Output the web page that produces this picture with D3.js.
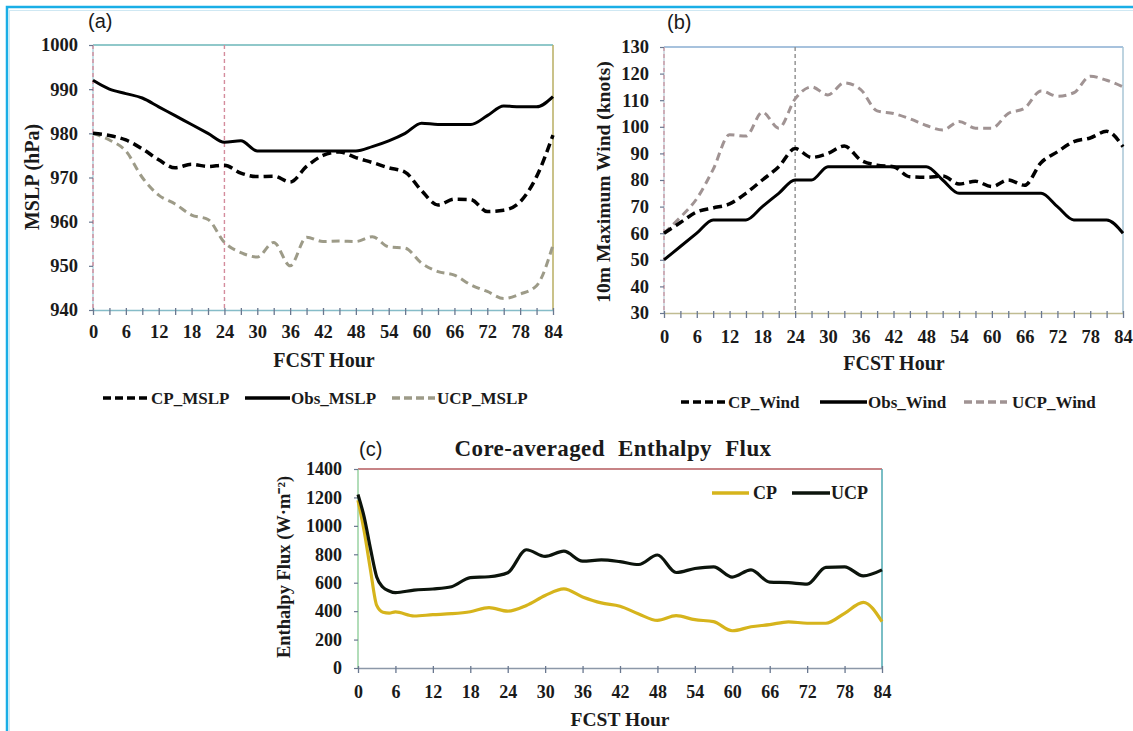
<!DOCTYPE html>
<html>
<head>
<meta charset="utf-8">
<script src="https://cdn.jsdelivr.net/npm/d3@7"></script>
<style>
  html, body { margin: 0; padding: 0; background: #fff; }
  svg { display: block; }
  text { font-family: "Liberation Serif", "Times New Roman", serif; fill: #1a1a1a; }
  .bold { font-weight: bold; }
  .panel-tag { font-family: "Liberation Sans", Arial, sans-serif; font-weight: normal; }
</style>
</head>
<body>
<svg id="fig" width="1133" height="731"></svg>
<script>
// Forecast hours (3-hourly) shared by the MSLP and wind panels
const hours = [0,3,6,9,12,15,18,21,24,27,30,33,36,39,42,45,48,51,54,57,60,63,66,69,72,75,78,81,84];

// (a) Minimum sea-level pressure, hPa
const cpMslp  = [980,979.5,978.5,976.5,974,972.2,973,972.5,972.8,971,970.2,970.3,969,972.5,975,975.8,974.5,973.4,972.2,971.2,967,963.8,965.1,965,962.3,962.6,964.5,970.2,979.6];
const obsMslp = [992,990,989,988,986,984,982,980,978,978.3,976,976,976,976,976,976,976,977,978.3,980,982.3,982,982,982,984,986.2,986,986,988.3];
const ucpMslp = [980,978.5,976,970,966,964,961.5,960.5,955.3,953,952,955.3,950,956.5,955.5,955.6,955.5,956.6,954.3,954,950.6,948.7,947.9,945.7,944.2,942.6,943.6,945.5,954.7];

// (b) 10 m maximum wind, knots
const cpWind  = [60,64,68,69.5,71,75,80,85,91.8,88.5,90,92.8,87.5,85.6,85,81.2,81,81.5,78.5,79.5,77.5,80,78,86.5,90.6,94.4,95.8,98.3,92.5];
const obsWind = [50,55,60,65,65,65,70,75,80,80,85,85,85,85,85,85,85,80,75,75,75,75,75,75,70,65,65,65,60];
const ucpWind = [60,66,73,84,97,96.5,105.5,99.5,110.5,115,112,116.5,114,106,105,103,100.5,98.8,102,99.5,99.5,105,107,113.5,111.5,112.8,119,117.5,115];

// (c) Core-averaged enthalpy flux, W m^-2 (hourly through hour 6, then 3-hourly)
const fluxHours = [0,1,2,3,4,5,6,9,12,15,18,21,24,27,30,33,36,39,42,45,48,51,54,57,60,63,66,69,72,75,78,81,84];
const cpFlux  = [1180,960,690,440,392,386,395,366,375,382,396,425,400,440,510,556,500,458,435,380,335,368,340,326,262,290,305,325,315,315,385,462,326];
const ucpFlux = [1220,1060,840,640,568,542,530,548,556,572,636,642,670,832,785,822,752,760,748,728,795,672,700,712,640,690,604,600,590,708,712,648,690];

// Tick values
const hourTicks  = [0,6,12,18,24,30,36,42,48,54,60,66,72,78,84];
const minorHours = d3.range(0, 85, 3);
const mslpTicks  = [940,950,960,970,980,990,1000];
const windTicks  = [30,40,50,60,70,80,90,100,110,120,130];
const fluxTicks  = [0,200,400,600,800,1000,1200,1400];

const svg = d3.select("#fig");
const plain = d3.format("d");

// Outer frame
svg.append("rect").attr("x", 7).attr("y", 7).attr("width", 1140).attr("height", 740)
  .attr("fill", "none").attr("stroke", "#1aaee6").attr("stroke-width", 2.5);
svg.append("path").attr("d", "M10,10.5H1133M9.5,10V731")
  .attr("fill", "none").attr("stroke", "#cfe8f3").attr("stroke-width", 1);

function panel(o) {
  const g = svg.append("g");
  const x = d3.scaleLinear().domain([0, 84]).range(o.xr);
  const y = d3.scaleLinear().domain(o.yd).range(o.yr);
  const [x0, x1] = o.xr, [yb, yt] = o.yr;

  // frame edges
  g.append("line").attr("x1", x0).attr("x2", x1).attr("y1", yt).attr("y2", yt)
    .attr("stroke", o.topColor).attr("stroke-width", 1.5);
  g.append("line").attr("x1", x1).attr("x2", x1).attr("y1", yt).attr("y2", yb)
    .attr("stroke", o.rightColor).attr("stroke-width", 1.5);
  g.append("line").attr("x1", x0).attr("x2", x0).attr("y1", yt).attr("y2", yb)
    .attr("stroke", o.leftColor).attr("stroke-width", 1.2);

  // reference verticals
  (o.vlines || []).forEach(v => {
    g.append("line").attr("x1", x(v.h)).attr("x2", x(v.h)).attr("y1", yt).attr("y2", yb)
      .attr("stroke", v.color).attr("stroke-width", 1.4).attr("stroke-dasharray", "4,3");
  });

  // x axis: minor ticks every 3 h, labels every 6 h
  const xa = g.append("g").attr("transform", `translate(0,${yb})`)
    .call(d3.axisBottom(x).tickValues(o.minor).tickSize(5).tickSizeOuter(0).tickFormat(""));
  xa.select(".domain").attr("stroke", o.bottomColor).attr("stroke-width", 1.5);
  xa.selectAll(".tick line").attr("stroke", o.tickColor).attr("stroke-width", 1.3).attr("y1", -2);
  g.append("g").attr("transform", `translate(0,${yb})`)
    .call(d3.axisBottom(x).tickValues(hourTicks).tickSize(0).tickPadding(o.xPad).tickFormat(plain))
    .call(a => a.select(".domain").remove())
    .selectAll("text").attr("class", "bold").style("font-size", o.tickFont + "px")
    .style("font-family", '"Liberation Serif", serif').attr("fill", "#1a1a1a");

  // y axis
  const ya = g.append("g").attr("transform", `translate(${x0},0)`)
    .call(d3.axisLeft(y).tickValues(o.yTicks).tickSize(4).tickSizeOuter(0).tickPadding(o.yPad).tickFormat(plain));
  ya.select(".domain").remove();
  ya.selectAll(".tick line").attr("stroke", o.tickColor).attr("stroke-width", 1.2);
  ya.selectAll("text").attr("class", "bold").style("font-size", o.tickFont + "px")
    .style("font-family", '"Liberation Serif", serif').attr("fill", "#1a1a1a");

  // series
  o.series.forEach(s => {
    const line = d3.line().x((d, i) => x(s.xs[i])).y(d => y(d)).curve(d3.curveMonotoneX);
    g.append("path").datum(s.values).attr("d", line).attr("fill", "none")
      .attr("stroke", s.color).attr("stroke-width", s.width)
      .attr("stroke-dasharray", s.dash || null)
      .attr("stroke-linejoin", "round");
  });

  // titles
  g.append("text").attr("class", "bold").attr("x", o.xTitle[0]).attr("y", o.xTitle[1])
    .attr("text-anchor", "middle").style("font-size", o.xTitleFont + "px").text("FCST Hour");
  g.append("text").attr("class", "bold")
    .attr("transform", `translate(${o.yTitle[0]},${o.yTitle[1]}) rotate(-90)`)
    .attr("text-anchor", "middle").style("font-size", o.yTitleFont + "px").text(o.yTitleText);
  g.append("text").attr("class", "panel-tag").attr("x", o.tag[0]).attr("y", o.tag[1])
    .style("font-size", "20px").text(o.tag[2]);

  // legend
  o.legend.forEach(l => {
    g.append("line").attr("x1", l.x1).attr("x2", l.x2).attr("y1", l.y).attr("y2", l.y)
      .attr("stroke", l.color).attr("stroke-width", l.width).attr("stroke-dasharray", l.dash || null);
    g.append("text").attr("class", "bold").attr("x", l.tx).attr("y", l.y + 6)
      .style("font-size", l.font + "px").text(l.label);
  });
  return { g, x, y };
}

const dashBlack = "9,5";
const dashGray = "8,5";
const grayA = "#9d9b88";
const grayB = "#a09393";

panel({
  xr: [93, 553], yd: [940, 1000], yr: [310, 45], yTicks: mslpTicks, minor: minorHours,
  topColor: "#6bb6b8", rightColor: "#b8ae62", leftColor: "#9fc9d6", bottomColor: "#86bcc8", tickColor: "#6a7890",
  vlines: [{ h: 0, color: "#d48c9c" }, { h: 24, color: "#d48c9c" }],
  xPad: 15, yPad: 11, tickFont: 18.5,
  series: [
    { xs: hours, values: ucpMslp, color: grayA, width: 3, dash: dashGray },
    { xs: hours, values: cpMslp, color: "#000", width: 3.5, dash: dashBlack },
    { xs: hours, values: obsMslp, color: "#000", width: 3 }
  ],
  xTitle: [324, 367], xTitleFont: 20, yTitle: [39, 177], yTitleFont: 20, yTitleText: "MSLP (hPa)",
  tag: [88, 28, "(a)"],
  legend: [
    { x1: 103, x2: 147, y: 398, color: "#000", width: 3.5, dash: "8,4", tx: 151, label: "CP_MSLP", font: 17 },
    { x1: 245, x2: 290, y: 398, color: "#000", width: 3.5, tx: 291, label: "Obs_MSLP", font: 17 },
    { x1: 392, x2: 435, y: 398, color: grayA, width: 3.5, dash: "8,4", tx: 437, label: "UCP_MSLP", font: 17 }
  ]
});

panel({
  xr: [664, 1123], yd: [30, 130], yr: [313, 47], yTicks: windTicks, minor: minorHours,
  topColor: "#8aaed2", rightColor: "#a9c6d6", leftColor: "#b9c9d4", bottomColor: "#c0bc92", tickColor: "#6a7890",
  vlines: [{ h: 0, color: "#c99aa6" }, { h: 24, color: "#8e8e8e" }],
  xPad: 17, yPad: 11, tickFont: 18.5,
  series: [
    { xs: hours, values: ucpWind, color: grayB, width: 3, dash: dashGray },
    { xs: hours, values: obsWind, color: "#000", width: 3 },
    { xs: hours, values: cpWind, color: "#000", width: 3.5, dash: dashBlack }
  ],
  xTitle: [894, 370], xTitleFont: 20, yTitle: [610, 182], yTitleFont: 19.5, yTitleText: "10m Maximum Wind (knots)",
  tag: [667, 29, "(b)"],
  legend: [
    { x1: 681, x2: 725, y: 402, color: "#000", width: 3.5, dash: "8,4", tx: 728, label: "CP_Wind", font: 17 },
    { x1: 820, x2: 867, y: 402, color: "#000", width: 3.5, tx: 868, label: "Obs_Wind", font: 17 },
    { x1: 964, x2: 1007, y: 402, color: grayB, width: 3.5, dash: "8,4", tx: 1012, label: "UCP_Wind", font: 17 }
  ]
});

panel({
  xr: [358, 882], yd: [0, 1400], yr: [668, 469], yTicks: fluxTicks, minor: hourTicks,
  topColor: "#b45a5e", rightColor: "#4ea8b2", leftColor: "#7fc68a", bottomColor: "#8c98a8", tickColor: "#6a7890",
  vlines: [],
  xPad: 17, yPad: 12, tickFont: 18,
  series: [
    { xs: fluxHours, values: cpFlux, color: "#d6b41c", width: 3.2 },
    { xs: fluxHours, values: ucpFlux, color: "#0c140c", width: 3.2 }
  ],
  xTitle: [620, 726], xTitleFont: 19.5, yTitle: [290, 567], yTitleFont: 18.5, yTitleText: "Enthalpy Flux (W\u00B7m\u207B\u00B2)",
  tag: [359, 456, "(c)"],
  legend: [
    { x1: 712, x2: 749, y: 493, color: "#d6b41c", width: 3.5, tx: 753, label: "CP", font: 18 },
    { x1: 792, x2: 830, y: 493, color: "#0c140c", width: 3.5, tx: 831, label: "UCP", font: 18 }
  ]
});

// Panel (c) heading
svg.append("text").attr("class", "bold").attr("x", 613).attr("y", 456)
  .attr("text-anchor", "middle").style("font-size", "23px")
  .style("word-spacing", "7px").style("letter-spacing", "0.4px")
  .text("Core-averaged Enthalpy Flux");
</script>
</body>
</html>
